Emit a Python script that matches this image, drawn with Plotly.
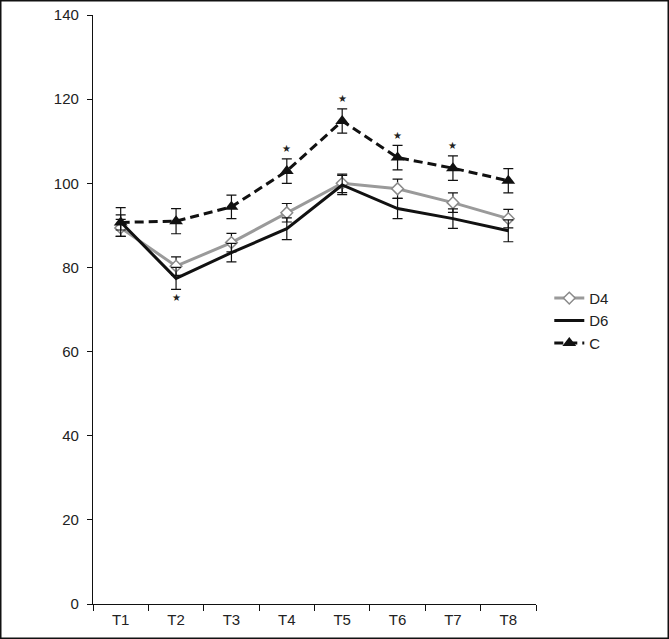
import plotly.graph_objects as go

categories = ["T1", "T2", "T3", "T4", "T5", "T6", "T7", "T8"]
y_ticks = [0, 20, 40, 60, 80, 100, 120, 140]

d4_values = [89.4, 80.3, 85.9, 93.0, 100.0, 98.7, 95.4, 91.6]
d4_errors = [2.0, 2.2, 2.2, 2.2, 2.2, 2.3, 2.3, 2.2]

d6_values = [90.8, 77.4, 83.5, 89.2, 99.6, 94.0, 91.6, 88.7]
d6_errors = [3.4, 2.6, 2.2, 2.6, 2.3, 2.4, 2.3, 2.6]

c_values = [90.7, 91.0, 94.4, 102.9, 114.8, 106.1, 103.6, 100.6]
c_errors = [1.8, 3.0, 2.8, 2.9, 2.9, 2.9, 2.9, 2.9]

# significance markers
sig_above_c = ["T4", "T5", "T6", "T7"]
sig_below_d6 = ["T2"]

W, H = 669, 639
ML, MR, MT, MB = 93, 133, 15, 35

fig = go.Figure()

fig.add_trace(go.Scatter(
    x=categories, y=d4_values, name="D4", mode="lines+markers",
    line=dict(color="#9a9a9a", width=3),
    marker=dict(symbol="diamond", size=9, color="white",
                line=dict(color="#8a8a8a", width=1.5)),
    error_y=dict(type="data", array=d4_errors, color="#111", thickness=1.2, width=5),
))
fig.add_trace(go.Scatter(
    x=categories, y=d6_values, name="D6", mode="lines",
    line=dict(color="#111111", width=3),
    error_y=dict(type="data", array=d6_errors, color="#111", thickness=1.2, width=5),
))
fig.add_trace(go.Scatter(
    x=categories, y=c_values, name="C", mode="lines+markers",
    line=dict(color="#111111", width=3, dash="9px,5px"),
    marker=dict(symbol="triangle-up", size=12, color="#111111"),
    error_y=dict(type="data", array=c_errors, color="#111", thickness=1.2, width=5),
))

star_x, star_y = [], []
for cat in sig_above_c:
    i = categories.index(cat)
    star_x.append(cat)
    star_y.append(c_values[i] + c_errors[i] + 2.2)
for cat in sig_below_d6:
    i = categories.index(cat)
    star_x.append(cat)
    star_y.append(d6_values[i] - d6_errors[i] - 2.2)
fig.add_trace(go.Scatter(
    x=star_x, y=star_y, mode="text", text=["★"] * len(star_x),
    textfont=dict(size=10, color="#222"), showlegend=False, hoverinfo="skip",
))

# outer border of the image
pw, ph = W - ML - MR, H - MT - MB
fig.add_shape(
    type="rect", xref="paper", yref="paper",
    x0=(0.75 - ML) / pw, x1=(W - 0.75 - ML) / pw,
    y0=(H - MB - (H - 0.75)) / ph, y1=(H - MB - 0.75) / ph,
    line=dict(color="#111", width=1.5), layer="below",
)

fig.update_layout(
    width=W, height=H,
    margin=dict(l=ML, r=MR, t=MT, b=MB, pad=0, autoexpand=False),
    plot_bgcolor="white", paper_bgcolor="white",
    font=dict(family="Liberation Sans, Arial, sans-serif", size=15, color="#222"),
    showlegend=True,
    legend=dict(x=1.03, y=0.547, xanchor="left", yanchor="top",
                font=dict(size=15, color="#222"), bgcolor="rgba(0,0,0,0)",
                tracegroupgap=0, itemwidth=30),
    xaxis=dict(
        type="category", categoryorder="array", categoryarray=categories,
        range=[-0.5, len(categories) - 0.5], automargin=False,
        showline=True, linecolor="#111", linewidth=1.2,
        ticks="outside", tickson="boundaries", ticklen=6, tickcolor="#111",
        showgrid=False, zeroline=False, tickfont=dict(size=15),
        ticklabelstandoff=2,
    ),
    yaxis=dict(
        range=[0, 140], tickvals=y_ticks, automargin=False,
        showline=True, linecolor="#111", linewidth=1.2,
        ticks="outside", ticklen=5, tickcolor="#111",
        showgrid=False, zeroline=False, tickfont=dict(size=15),
        ticklabelstandoff=5,
    ),
)

fig.write_html("out.html", config={"displayModeBar": False},
               post_script="document.body.style.margin='0';")
